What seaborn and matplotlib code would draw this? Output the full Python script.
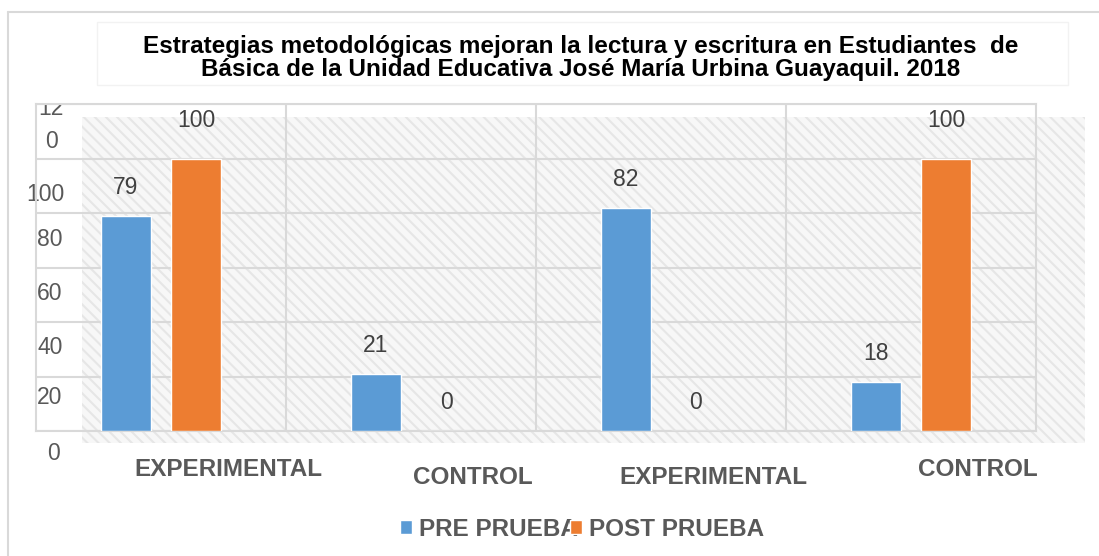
import matplotlib
matplotlib.use("Agg")
import matplotlib.pyplot as plt
from matplotlib.patches import Rectangle
from matplotlib.lines import Line2D
from matplotlib.transforms import ScaledTranslation
import seaborn as sns
import pandas as pd

# ---- data ----
groups = ["EXPERIMENTAL", "CONTROL", "EXPERIMENTAL", "CONTROL"]
pre_prueba = [79, 21, 82, 18]
post_prueba = [100, 0, 0, 100]
series_names = ["PRE PRUEBA", "POST PRUEBA"]
y_ticks = [0, 20, 40, 60, 80, 100, 120]
y_ticklabels = ["0", "20", "40", "60", "80", "100", "12\n0"]
title = ("Estrategias metodológicas mejoran la lectura y escritura en Estudiantes  de\n"
         "Básica de la Unidad Educativa José María Urbina Guayaquil. 2018")

rows = []
for i, g in enumerate(groups):
    rows.append({"pos": i, "serie": series_names[0], "valor": pre_prueba[i]})
    rows.append({"pos": i, "serie": series_names[1], "valor": post_prueba[i]})
df = pd.DataFrame(rows)

sns.set_theme(style="white")
plt.rcParams["font.family"] = ["Liberation Sans", "DejaVu Sans"]
plt.rcParams["hatch.linewidth"] = 1.5
plt.rcParams["hatch.color"] = "#E6E6E6"

W, H = 1099, 556
fig = plt.figure(figsize=(W / 100, H / 100), dpi=100)
fig.patch.set_facecolor("white")

def px(x0, y0, x1, y1):
    return (x0 / W, 1 - y1 / H, (x1 - x0) / W, (y1 - y0) / H)

# outer chart frame (left + top lines)
fig.add_artist(Line2D([8 / W, 8 / W], [0, 1 - 12 / H], color="#D9D9D9", lw=1.5,
                      transform=fig.transFigure))
fig.add_artist(Line2D([8 / W, 1], [1 - 12 / H, 1 - 12 / H], color="#D9D9D9", lw=1.5,
                      transform=fig.transFigure))

# hatched background
x, y, w, h = px(82, 117, 1085, 443)
bg = Rectangle((x, y), w, h, transform=fig.transFigure, facecolor="#F7F7F7",
               edgecolor="#E6E6E6", hatch="\\\\\\", lw=0, zorder=-1)
fig.add_artist(bg)

# title box
x, y, w, h = px(97, 22, 1068, 85)
fig.add_artist(Rectangle((x, y), w, h, transform=fig.transFigure, facecolor="white",
                         edgecolor="#F2F2F2", lw=1, zorder=0.5))
fig.text(581 / W, 1 - 58 / H, title, ha="center", va="center", fontsize=17.5,
         fontweight="bold", color="black", linespacing=1.02)

ax = fig.add_axes(px(36, 104, 1036, 431))
ax.set_facecolor("none")
pal = ["#5B9BD5", "#ED7D31"]
sns.barplot(data=df, x="pos", y="valor", hue="serie", palette=pal, width=0.56,
            gap=0.286, ax=ax, saturation=1, errorbar=None, zorder=3)

ax.set_xlim(-0.5, 3.5)
ax.set_ylim(0, 120)
ax.set_xlabel("")
ax.set_ylabel("")

# grid
for yv in y_ticks:
    ax.axhline(yv, color="#D9D9D9", lw=1.5, zorder=1)
for xv in [0.5, 1.5, 2.5]:
    ax.axvline(xv, color="#D9D9D9", lw=1.5, zorder=1)
for s in ax.spines.values():
    s.set_color("#D9D9D9")
    s.set_linewidth(1.5)

# data labels
for c in ax.containers:
    texts = ax.bar_label(c, padding=12, fontsize=16.5, color="#404040")
    for t in texts:
        if t.get_text() == "100":
            t.xyann = (0, 19)

ax.tick_params(axis="both", length=0)
ax.set_yticks(y_ticks)
ax.set_yticklabels(y_ticklabels, fontsize=16.5, color="#595959", linespacing=1.55)
y_off = {"0": (17, -22), "20": (14, -21), "40": (14, -25), "60": (14, -26),
         "80": (14, -27), "100": (9, -36), "12\n0": (15, -21)}
for lab in ax.get_yticklabels():
    dx, dy = y_off[lab.get_text()]
    lab.set_horizontalalignment("center")
    lab.set_verticalalignment("center")
    lab.set_transform(ax.get_yaxis_transform() +
                      ScaledTranslation(dx / 100, dy / 100, fig.dpi_scale_trans))
    if lab.get_text() == "12\n0":
        lab.set_clip_on(True)
        lab.set_clip_box(ax.bbox)

ax.set_xticks(range(len(groups)))
ax.set_xticklabels(groups, fontsize=17.5, fontweight="bold", color="#595959")
x_off = [(67, -38), (62, -46), (52, -46), (67, -38)]
for lab, (dx, dy) in zip(ax.get_xticklabels(), x_off):
    lab.set_verticalalignment("center")
    lab.set_transform(ax.get_xaxis_transform() +
                      ScaledTranslation(dx / 100, dy / 100, fig.dpi_scale_trans))

handles, labels = ax.get_legend_handles_labels()
ax.legend_.remove()
leg = fig.legend(handles, labels, loc="center", bbox_to_anchor=(582 / W, 1 - 529 / H),
                 ncol=2, frameon=False, handlelength=0.5, handleheight=0.5,
                 handletextpad=0.3, columnspacing=-0.35,
                 prop={"size": 17.5, "weight": "bold"})
for t in leg.get_texts():
    t.set_color("#595959")

fig.savefig("out.png", dpi=100)
